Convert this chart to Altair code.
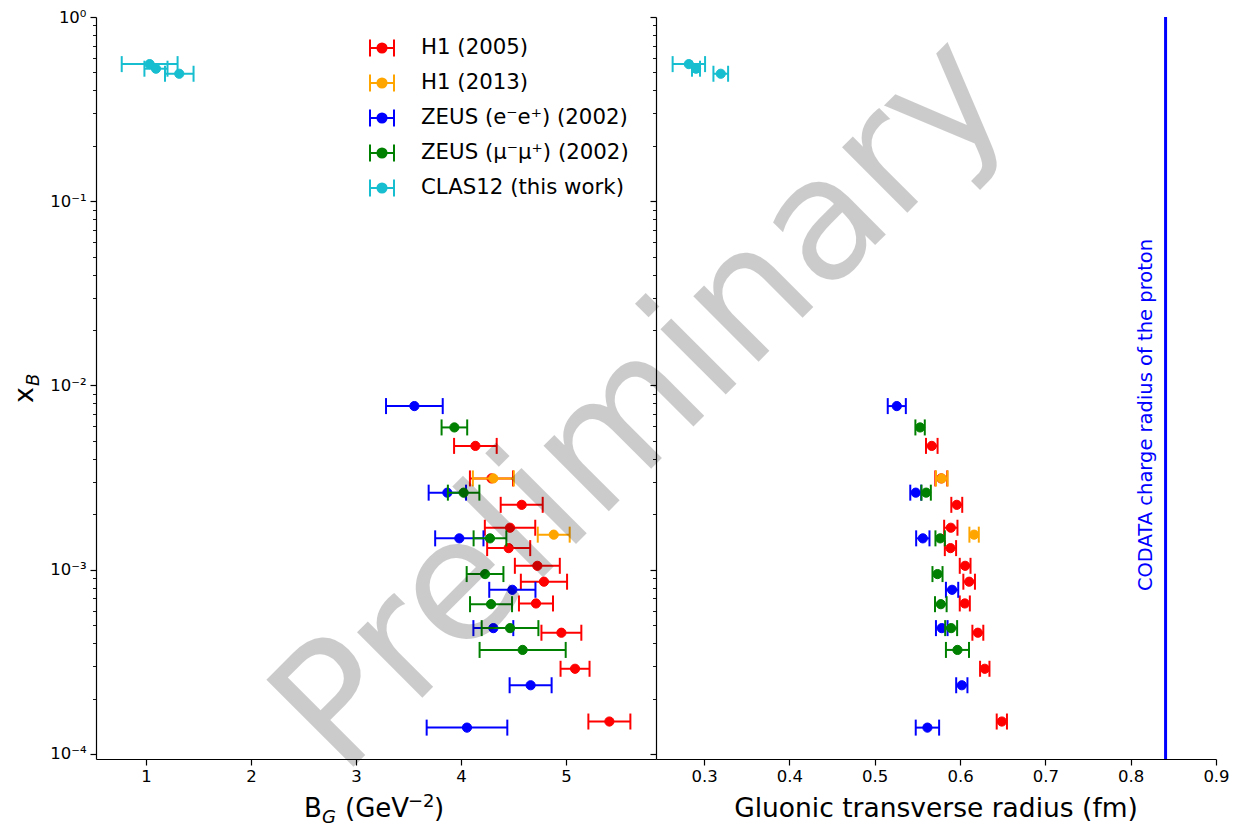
import altair as alt
import pandas as pd

# ---- series labels and colours -------------------------------------------
series_names = ["H1 (2005)", "H1 (2013)", "ZEUS (e⁻e⁺) (2002)",
                "ZEUS (μ⁻μ⁺) (2002)", "CLAS12 (this work)"]
series_colors = ["#ff0000", "#ffa500", "#0000ff", "#008000", "#17becf"]

# ---- H1 (2005) ------------------------------------------------------------
h1_2005_xb = [0.00470, 0.00313, 0.00225, 0.00169, 0.00131, 0.00105,
              0.000861, 0.000656, 0.000455, 0.000290, 0.000150]
h1_2005_b = [4.137, 4.29, 4.578, 4.467, 4.454, 4.727, 4.790, 4.714, 4.956, 5.086, 5.413]
h1_2005_b_err = [0.203, 0.205, 0.20, 0.24, 0.205, 0.214, 0.22, 0.162, 0.19, 0.138, 0.20]
h1_2005_r = [0.5669, 0.5780, 0.5962, 0.5892, 0.5888, 0.6060, 0.6107, 0.6056, 0.6209, 0.6290, 0.6490]
h1_2005_r_err = [0.0068, 0.0070, 0.0064, 0.0078, 0.0066, 0.0063, 0.0068, 0.0059, 0.0064, 0.0055, 0.0060]

# ---- H1 (2013) ------------------------------------------------------------
h1_2013_xb = [0.00313, 0.00155]
h1_2013_b = [4.308, 4.883]
h1_2013_b_err = [0.195, 0.152]
h1_2013_r = [0.5786, 0.6165]
h1_2013_r_err = [0.0068, 0.0055]

# ---- ZEUS e-e+ (2002) -----------------------------------------------------
zeus_e_xb = [0.00773, 0.00262, 0.00148, 0.000778, 0.000482, 0.000236, 0.000139]
zeus_e_b = [3.556, 3.870, 3.984, 4.489, 4.308, 4.663, 4.057]
zeus_e_b_err = [0.27, 0.178, 0.23, 0.22, 0.19, 0.20, 0.384]
zeus_e_r = [0.5259, 0.5481, 0.5564, 0.5907, 0.5786, 0.6021, 0.5618]
zeus_e_r_err = [0.0106, 0.0064, 0.0078, 0.0072, 0.0068, 0.0066, 0.0137]

# ---- ZEUS mu-mu+ (2002) ---------------------------------------------------
zeus_mu_xb = [0.00592, 0.00262, 0.00148, 0.000947, 0.000650, 0.000482, 0.000367]
zeus_mu_b = [3.937, 4.025, 4.276, 4.229, 4.286, 4.467, 4.587]
zeus_mu_b_err = [0.122, 0.15, 0.156, 0.175, 0.20, 0.27, 0.41]
zeus_mu_r = [0.5532, 0.5603, 0.5767, 0.5736, 0.5775, 0.5896, 0.5970]
zeus_mu_r_err = [0.0055, 0.0055, 0.0055, 0.0059, 0.0068, 0.0070, 0.0135]

# ---- CLAS12 (this work) ---------------------------------------------------
clas12_xb = [0.555, 0.524, 0.492]
clas12_b = [1.035, 1.095, 1.317]
clas12_b_err = [0.266, 0.11, 0.136]
clas12_r = [0.2822, 0.2906, 0.3196]
clas12_r_err = [0.019, 0.0047, 0.0086]

# CODATA proton charge radius (fm)
codata_radius = 0.8409

# axis tick values
b_ticks = [1, 2, 3, 4, 5]
r_ticks = [0.3, 0.4, 0.5, 0.6, 0.7, 0.8, 0.9]
xb_ticks = [0.0001, 0.0002, 0.0003, 0.0004, 0.0005, 0.0006, 0.0007, 0.0008, 0.0009,
            0.001, 0.002, 0.003, 0.004, 0.005, 0.006, 0.007, 0.008, 0.009,
            0.01, 0.02, 0.03, 0.04, 0.05, 0.06, 0.07, 0.08, 0.09,
            0.1, 0.2, 0.3, 0.4, 0.5, 0.6, 0.7, 0.8, 0.9, 1.0]

# ---- table ----------------------------------------------------------------
blocks = [
    (h1_2005_xb, h1_2005_b, h1_2005_b_err, h1_2005_r, h1_2005_r_err),
    (h1_2013_xb, h1_2013_b, h1_2013_b_err, h1_2013_r, h1_2013_r_err),
    (zeus_e_xb, zeus_e_b, zeus_e_b_err, zeus_e_r, zeus_e_r_err),
    (zeus_mu_xb, zeus_mu_b, zeus_mu_b_err, zeus_mu_r, zeus_mu_r_err),
    (clas12_xb, clas12_b, clas12_b_err, clas12_r, clas12_r_err),
]
frames = []
for name, (xb, b, be, r, re) in zip(series_names, blocks):
    frames.append(pd.DataFrame({"series": name, "xb": xb, "b": b, "b_err": be,
                                "r": r, "r_err": re}))
data = pd.concat(frames, ignore_index=True)
one = pd.DataFrame({"k": [0]})

FONT = "DejaVu Sans"
W, H = 560, 742
LEFT, TOP = 96, 17
PAGE_W, PAGE_H = 1234, 824

decade = "abs(log(datum.value)/LN10 - round(log(datum.value)/LN10)) < 1e-6"
label_expr = (decade + " ? ['10⁰','10⁻¹','10⁻²','10⁻³','10⁻⁴']"
              "[-round(log(datum.value)/LN10)] : ''")

y_scale = alt.Scale(type="log", domain=[0.0000939, 1.0], nice=False)


def y_axis(labels):
    return alt.Axis(values=xb_ticks, labels=labels, labelExpr=label_expr,
                    labelOverlap=False, labelFlush=False, labelFontSize=16.5,
                    labelColor="black", labelPadding=4, grid=False, title=None,
                    domainColor="black", domainWidth=1.2, tickColor="black",
                    tickSize={"condition": {"test": decade, "value": 6}, "value": 3.5},
                    tickWidth={"condition": {"test": decade, "value": 1.2}, "value": 0.9})


def x_axis(values, fmt):
    return alt.Axis(values=values, format=fmt, labelFontSize=16.5, labelColor="black",
                    labelPadding=3, labelFlush=False, labelOverlap=False, grid=False,
                    title=None, domainColor="black", domainWidth=1.2,
                    tickColor="black", tickSize=6, tickWidth=1.2)


legend = alt.Legend(
    title=None, orient="none", legendX=273, legendY=18, padding=0,
    symbolType="M-1,0L1,0M-1,-0.7L-1,0.7M1,-0.7L1,0.7"
               "M-0.38,0A0.38,0.38,0,1,0,0.38,0A0.38,0.38,0,1,0,-0.38,0Z",
    symbolSize=576, symbolStrokeWidth=2, symbolOpacity=1,
    labelFontSize=21.3, labelColor="black", labelOffset=26, labelLimit=0,
    rowPadding=9,
)
color_scale = alt.Scale(domain=series_names, range=series_colors)


def errorbar_layers(val, err, x_scale, xax, yax, with_legend):
    layers = []
    y = alt.Y("xb:Q", scale=y_scale, axis=yax)
    for name, color in zip(series_names, series_colors):
        base = (alt.Chart(data)
                .transform_filter(alt.datum.series == name)
                .transform_calculate(lo=f"datum.{val} - datum.{err}",
                                     hi=f"datum.{val} + datum.{err}"))
        bar = base.mark_rule(color=color, strokeWidth=2).encode(
            x=alt.X("lo:Q", scale=x_scale, axis=xax), x2="hi:Q", y=y)
        cap_lo = base.mark_tick(orient="vertical", color=color, thickness=2,
                                size=16, opacity=1).encode(
            x=alt.X("lo:Q", scale=x_scale, axis=xax), y=y)
        cap_hi = base.mark_tick(orient="vertical", color=color, thickness=2,
                                size=16, opacity=1).encode(
            x=alt.X("hi:Q", scale=x_scale, axis=xax), y=y)
        if with_legend:
            dot = base.mark_point(filled=True, size=85, strokeWidth=1, opacity=1).encode(
                x=alt.X(f"{val}:Q", scale=x_scale, axis=xax), y=y,
                fill=alt.Fill("series:N", scale=color_scale, legend=legend),
                stroke=alt.Stroke("series:N", scale=color_scale, legend=legend))
        else:
            dot = base.mark_point(filled=True, size=85, strokeWidth=1, opacity=1,
                                  fill=color, stroke=color).encode(
                x=alt.X(f"{val}:Q", scale=x_scale, axis=xax), y=y)
        layers += [bar, cap_lo, cap_hi, dot]
    return layers


def text(t, x, y, size, **kw):
    return alt.Chart(one).mark_text(text=t, font=FONT, fontSize=size,
                                    color=kw.pop("color", "black"), **kw).encode(
        x=alt.value(x), y=alt.value(y))


# ---- left panel: B_G ------------------------------------------------------
b_scale = alt.Scale(domain=[0.524, 5.857], nice=False, zero=False)
left_layers = errorbar_layers("b", "b_err", b_scale, x_axis(b_ticks, "d"),
                              y_axis(True), True)
left_layers += [
    # x-axis title  B_G (GeV^-2)
    text("B", 208, 800, 26, align="left", baseline="alphabetic"),
    text("G", 226, 806, 18, align="left", baseline="alphabetic", fontStyle="italic"),
    text("(GeV", 249, 800, 26, align="left", baseline="alphabetic"),
    text("−2", 312, 790, 18, align="left", baseline="alphabetic"),
    text(")", 338, 800, 26, align="left", baseline="alphabetic"),
    # y-axis title  x_B
    text("x", -63, 386, 27, align="left", baseline="alphabetic", angle=270),
    text("B", -57, 369, 18, align="left", baseline="alphabetic", angle=270,
         fontStyle="italic"),
    # watermark
    text("Preliminary", 547, 388, 169, align="center", baseline="middle",
         angle=315, opacity=0.2),
]
left = alt.layer(*left_layers).properties(width=W, height=H)

# ---- right panel: gluonic transverse radius ------------------------------
r_scale = alt.Scale(domain=[0.2437, 0.9], nice=False, zero=False)
r_axis = x_axis(r_ticks, ".1f")
right_layers = errorbar_layers("r", "r_err", r_scale, r_axis, y_axis(False), False)
right_layers += [
    alt.Chart(pd.DataFrame({"r": [codata_radius]})).mark_rule(
        color="#0000ff", strokeWidth=3).encode(
        x=alt.X("r:Q", scale=r_scale, axis=r_axis)),
    text("CODATA charge radius of the proton", 496, 398, 19.5, align="center",
         baseline="alphabetic", angle=270, color="#0000ff"),
    text("Gluonic transverse radius (fm)", 280, 800, 26.5, align="center",
         baseline="alphabetic"),
]
right = alt.layer(*right_layers).properties(width=W, height=H)

chart = (alt.hconcat(left, right, spacing=0, bounds="flush")
         .resolve_scale(fill="shared", stroke="shared")
         .properties(autosize=alt.AutoSizeParams(type="none"),
                     padding={"left": LEFT, "top": TOP,
                              "right": PAGE_W - LEFT, "bottom": PAGE_H - TOP},
                     background="white")
         .configure(font=FONT)
         .configure_view(stroke=None))

chart.save("out.html", embed_options={"renderer": "svg", "actions": False})
